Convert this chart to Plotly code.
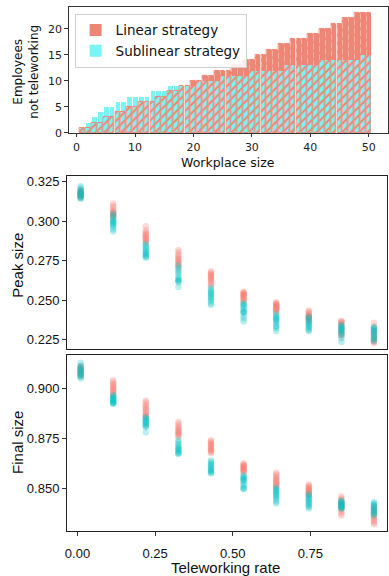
import plotly.graph_objects as go

# ---------------- data ----------------
workplace_size = list(range(1, 51))
linear_strategy = [1, 1, 2, 2, 3, 3, 4, 4, 5, 5,
                   6, 6, 6, 7, 7, 8, 8, 9, 9, 10,
                   10, 11, 11, 12, 12, 12, 13, 13, 14, 14,
                   15, 15, 16, 16, 17, 17, 18, 18, 18, 19,
                   19, 20, 20, 21, 21, 22, 22, 23, 23, 23]
sublinear_strategy = [1, 2, 3, 4, 5, 5, 6, 6, 7, 7,
                      7, 7, 8, 8, 8, 9, 9, 9, 9, 9,
                      10, 10, 10, 10, 11, 11, 11, 11, 11, 12,
                      12, 12, 12, 12, 12, 13, 13, 13, 13, 13,
                      13, 14, 14, 14, 14, 14, 14, 14, 15, 15]

teleworking_rate = [0.01, 0.115, 0.22, 0.325, 0.43, 0.535, 0.64, 0.745, 0.85, 0.955]

peak_linear = [
    [0.3198, 0.3192, 0.3186, 0.3182, 0.3178, 0.3174, 0.3170, 0.3166, 0.3162, 0.3158, 0.3155, 0.3150],
    [0.3112, 0.3098, 0.3085, 0.3072, 0.3064, 0.3058, 0.3052, 0.3047, 0.3042, 0.3035, 0.3028, 0.3020],
    [0.2968, 0.2945, 0.2930, 0.2922, 0.2915, 0.2908, 0.2900, 0.2893, 0.2886, 0.2880, 0.2872, 0.2862],
    [0.2818, 0.2805, 0.2792, 0.2780, 0.2770, 0.2762, 0.2755, 0.2748, 0.2740, 0.2730, 0.2720, 0.2710],
    [0.2684, 0.2675, 0.2668, 0.2660, 0.2652, 0.2645, 0.2638, 0.2630, 0.2622, 0.2612, 0.2602, 0.2594],
    [0.2555, 0.2550, 0.2545, 0.2540, 0.2535, 0.2530, 0.2525, 0.2520, 0.2512, 0.2505, 0.2498, 0.2492],
    [0.2488, 0.2482, 0.2476, 0.2470, 0.2465, 0.2460, 0.2455, 0.2450, 0.2445, 0.2440, 0.2432, 0.2424],
    [0.2436, 0.2428, 0.2420, 0.2412, 0.2405, 0.2400, 0.2396, 0.2392, 0.2388, 0.2384, 0.2376, 0.2368],
    [0.2370, 0.2366, 0.2362, 0.2355, 0.2345, 0.2335, 0.2325, 0.2312, 0.2300, 0.2290, 0.2280, 0.2272],
    [0.2358, 0.2335, 0.2318, 0.2305, 0.2292, 0.2282, 0.2272, 0.2262, 0.2252, 0.2244, 0.2236, 0.2230],
]
peak_sublinear = [
    [0.3222, 0.3210, 0.3200, 0.3192, 0.3185, 0.3180, 0.3175, 0.3168, 0.3162, 0.3155, 0.3148, 0.3142],
    [0.3048, 0.3035, 0.3020, 0.3008, 0.3000, 0.2995, 0.2990, 0.2982, 0.2975, 0.2965, 0.2950, 0.2935],
    [0.2858, 0.2848, 0.2838, 0.2828, 0.2818, 0.2810, 0.2802, 0.2795, 0.2788, 0.2782, 0.2776, 0.2770],
    [0.2722, 0.2705, 0.2692, 0.2680, 0.2668, 0.2650, 0.2638, 0.2630, 0.2625, 0.2620, 0.2615, 0.2585],
    [0.2580, 0.2568, 0.2558, 0.2550, 0.2542, 0.2535, 0.2525, 0.2515, 0.2505, 0.2495, 0.2482, 0.2470],
    [0.2482, 0.2475, 0.2468, 0.2460, 0.2448, 0.2435, 0.2428, 0.2424, 0.2420, 0.2400, 0.2385, 0.2366],
    [0.2415, 0.2405, 0.2395, 0.2388, 0.2380, 0.2375, 0.2368, 0.2355, 0.2340, 0.2335, 0.2322, 0.2305],
    [0.2398, 0.2388, 0.2378, 0.2368, 0.2360, 0.2352, 0.2345, 0.2338, 0.2330, 0.2322, 0.2312, 0.2305],
    [0.2345, 0.2338, 0.2332, 0.2325, 0.2318, 0.2312, 0.2305, 0.2298, 0.2290, 0.2280, 0.2260, 0.2236],
    [0.2332, 0.2325, 0.2318, 0.2312, 0.2305, 0.2298, 0.2290, 0.2280, 0.2270, 0.2260, 0.2250, 0.2242],
]
final_linear = [
    [0.9110, 0.9105, 0.9100, 0.9095, 0.9090, 0.9086, 0.9082, 0.9078, 0.9074, 0.9070, 0.9065, 0.9060],
    [0.9040, 0.9030, 0.9022, 0.9015, 0.9008, 0.9002, 0.8996, 0.8990, 0.8984, 0.8978, 0.8970, 0.8962],
    [0.8938, 0.8928, 0.8918, 0.8910, 0.8902, 0.8895, 0.8888, 0.8880, 0.8872, 0.8866, 0.8860, 0.8856],
    [0.8832, 0.8822, 0.8812, 0.8805, 0.8798, 0.8792, 0.8786, 0.8780, 0.8775, 0.8770, 0.8764, 0.8758],
    [0.8740, 0.8734, 0.8728, 0.8722, 0.8716, 0.8710, 0.8704, 0.8698, 0.8692, 0.8688, 0.8682, 0.8676],
    [0.8626, 0.8620, 0.8616, 0.8612, 0.8608, 0.8604, 0.8600, 0.8596, 0.8592, 0.8588, 0.8583, 0.8578],
    [0.8578, 0.8570, 0.8562, 0.8555, 0.8548, 0.8542, 0.8536, 0.8530, 0.8524, 0.8518, 0.8512, 0.8505],
    [0.8520, 0.8514, 0.8508, 0.8503, 0.8498, 0.8494, 0.8490, 0.8486, 0.8482, 0.8478, 0.8472, 0.8468],
    [0.8462, 0.8452, 0.8444, 0.8436, 0.8428, 0.8420, 0.8412, 0.8404, 0.8395, 0.8386, 0.8376, 0.8366],
    [0.8412, 0.8402, 0.8394, 0.8386, 0.8378, 0.8370, 0.8362, 0.8354, 0.8346, 0.8338, 0.8330, 0.8322],
]
final_sublinear = [
    [0.9126, 0.9112, 0.9104, 0.9098, 0.9092, 0.9086, 0.9080, 0.9074, 0.9068, 0.9062, 0.9055, 0.9048],
    [0.8966, 0.8960, 0.8955, 0.8950, 0.8946, 0.8942, 0.8938, 0.8934, 0.8930, 0.8927, 0.8924, 0.8922],
    [0.8856, 0.8850, 0.8845, 0.8840, 0.8835, 0.8830, 0.8825, 0.8820, 0.8815, 0.8810, 0.8806, 0.8780],
    [0.8742, 0.8732, 0.8722, 0.8714, 0.8706, 0.8700, 0.8695, 0.8690, 0.8685, 0.8680, 0.8676, 0.8672],
    [0.8639, 0.8632, 0.8625, 0.8618, 0.8612, 0.8606, 0.8600, 0.8594, 0.8588, 0.8584, 0.8580, 0.8575],
    [0.8566, 0.8560, 0.8555, 0.8550, 0.8545, 0.8540, 0.8535, 0.8525, 0.8515, 0.8505, 0.8500, 0.8497],
    [0.8505, 0.8498, 0.8492, 0.8486, 0.8480, 0.8474, 0.8468, 0.8462, 0.8455, 0.8445, 0.8435, 0.8426],
    [0.8472, 0.8465, 0.8458, 0.8452, 0.8446, 0.8440, 0.8434, 0.8428, 0.8422, 0.8416, 0.8408, 0.8400],
    [0.8440, 0.8436, 0.8432, 0.8428, 0.8424, 0.8420, 0.8416, 0.8412, 0.8408, 0.8404, 0.8402, 0.8400],
    [0.8432, 0.8426, 0.8420, 0.8414, 0.8408, 0.8402, 0.8396, 0.8390, 0.8384, 0.8378, 0.8372, 0.8366],
]

# ---------------- styling ----------------
SALMON = "rgb(238,134,118)"
CYAN_BAR = "rgb(122,245,245)"
RED_PT = "#F8766D"
CYAN_PT = "#00BFC4"
MPL_FONT = "DejaVu Sans"
GG_FONT = "Liberation Sans"
W, H = 389, 576


def flat(cols):
    xs, ys = [], []
    for xv, col in zip(teleworking_rate, cols):
        for v in col:
            xs.append(xv)
            ys.append(v)
    return xs, ys


fig = go.Figure()

# top: bar chart
fig.add_trace(go.Bar(x=workplace_size, y=linear_strategy, width=0.8, name="Linear strategy",
                     marker=dict(color=SALMON, line=dict(width=0)),
                     xaxis="x", yaxis="y"))
fig.add_trace(go.Bar(x=workplace_size, y=sublinear_strategy, width=0.8, name="Sublinear strategy",
                     marker=dict(color=CYAN_BAR, line=dict(width=0)),
                     xaxis="x", yaxis="y"))
fig.add_trace(go.Bar(x=workplace_size, y=linear_strategy, width=0.8, showlegend=False,
                     marker=dict(color=SALMON, line=dict(color=SALMON, width=1),
                                 pattern=dict(shape="/", fillmode="replace", size=6, solidity=0.35)),
                     xaxis="x", yaxis="y"))

# scatter panels
for cols, color, ax in [(peak_linear, RED_PT, "2"), (peak_sublinear, CYAN_PT, "2"),
                        (final_linear, RED_PT, "3"), (final_sublinear, CYAN_PT, "3")]:
    xs, ys = flat(cols)
    fig.add_trace(go.Scatter(x=xs, y=ys, mode="markers", showlegend=False,
                             marker=dict(color=color, size=6.5, opacity=0.27, line=dict(width=0)),
                             xaxis="x" + ax, yaxis="y" + ax))


def px_x(p):
    return p / W


def px_y(p):
    return 1 - p / H


mpl_axis = dict(showline=True, mirror=True, linecolor="#333", linewidth=1, ticks="outside",
                ticklen=3.5, tickcolor="#333", showgrid=False, zeroline=False,
                tickfont=dict(family=MPL_FONT, size=11, color="#222"))
gg_axis = dict(showline=True, mirror=True, linecolor="#222", linewidth=1.3,
               ticklen=3.5, tickcolor="#333", showgrid=False, zeroline=False,
               tickfont=dict(family=GG_FONT, size=13, color="#111"))

fig.update_layout(
    width=W, height=H,
    margin=dict(l=0, r=0, t=0, b=0),
    paper_bgcolor="white", plot_bgcolor="white",
    barmode="overlay", bargap=0,
    xaxis=dict(domain=[px_x(67), px_x(388)], anchor="y", range=[-1.36, 53.3],
               tickvals=[0, 10, 20, 30, 40, 50], **mpl_axis),
    yaxis=dict(domain=[px_y(133), px_y(5)], anchor="x", range=[0, 24.2],
               tickvals=[0, 5, 10, 15, 20], **mpl_axis),
    xaxis2=dict(domain=[px_x(65), px_x(387)], anchor="y2", range=[-0.035, 0.997],
                showticklabels=False, ticks="", **gg_axis),
    yaxis2=dict(domain=[px_y(352.7), px_y(177)], anchor="x2", range=[0.2191, 0.3285],
                tickvals=[0.225, 0.25, 0.275, 0.3, 0.325], tickformat=".3f", ticks="outside",
                ticklabelstandoff=0, **gg_axis),
    xaxis3=dict(domain=[px_x(65), px_x(387)], anchor="y3", range=[-0.035, 0.997],
                tickvals=[0, 0.25, 0.5, 0.75], tickformat=".2f", ticks="outside",
                ticklabelstandoff=6, **gg_axis),
    yaxis3=dict(domain=[px_y(537.7), px_y(359)], anchor="x3", range=[0.8287, 0.9163],
                tickvals=[0.85, 0.875, 0.9], tickformat=".3f", ticks="outside",
                ticklabelstandoff=0, **gg_axis),
    legend=dict(x=px_x(73), y=px_y(12), xanchor="left", yanchor="top",
                bgcolor="rgba(255,255,255,0.85)", bordercolor="#d0d0d0", borderwidth=1,
                font=dict(family=MPL_FONT, size=13.5, color="#111"),
                tracegroupgap=0, itemsizing="constant"),
    showlegend=True,
)

annots = [
    dict(text="Employees<br>not teleworking", x=px_x(24), y=px_y(71), textangle=-90,
         font=dict(family=MPL_FONT, size=12, color="#111")),
    dict(text="Workplace size", x=px_x(227), y=px_y(163),
         font=dict(family=MPL_FONT, size=12.5, color="#111")),
    dict(text="Peak size", x=px_x(16), y=px_y(267), textangle=-90,
         font=dict(family=GG_FONT, size=15, color="#111")),
    dict(text="Final size", x=px_x(15), y=px_y(447), textangle=-90,
         font=dict(family=GG_FONT, size=15, color="#111")),
    dict(text="Teleworking rate", x=px_x(225), y=px_y(574),
         font=dict(family=GG_FONT, size=15, color="#111")),
]
for a in annots:
    fig.add_annotation(xref="paper", yref="paper", showarrow=False,
                       xanchor="center", yanchor="middle", **a)

fig.write_html("out.html")
